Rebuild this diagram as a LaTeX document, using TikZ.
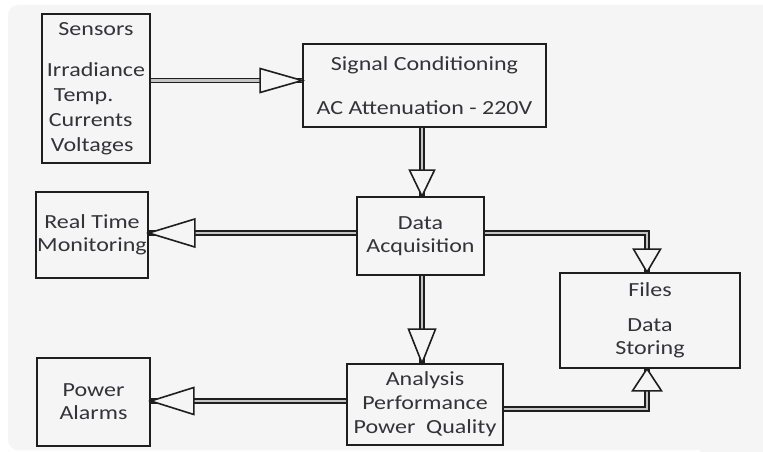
\documentclass[tikz,border=0pt]{standalone}
\usepackage{fontspec}
\setmainfont{Carlito}[FakeStretch=1.2]
\definecolor{bgc}{HTML}{F5F5F5}
\definecolor{txt}{HTML}{333338}
\definecolor{ink}{HTML}{1E1E1E}
\definecolor{gapc}{HTML}{C4C4C4}
\tikzset{
  box/.style={draw=ink, line width=1.7pt, inner sep=0pt, align=center, text=txt,
    font=\fontsize{20pt}{23pt}\selectfont},
  shaft/.style={draw=ink, line width=1.7pt, double=gapc, double distance=2.2pt, line join=miter},
  head/.style={draw=ink, line width=1.6pt, fill=bgc, line join=miter}
}
\begin{document}
\begin{tikzpicture}[x=1pt,y=-1pt]
\useasboundingbox (0,0) rectangle (763,452);
\fill[white] (0,0) rectangle (763,452);
\fill[bgc, rounded corners=10pt] (8,5) rectangle (775,450);
\fill[bgc] (700,300) rectangle (763,452);

% boxes
\node[box, minimum width=108pt, minimum height=149pt, align=left,
  font=\fontsize{20pt}{25pt}\selectfont] (sens) at (96,88.5)
  {\makebox[98pt]{Sensors}\\[16pt]Irradiance\\\hspace*{7pt}Temp.\\\hspace*{2pt}Currents\\\hspace*{4pt}Voltages};
\node[box, minimum width=243pt, minimum height=83pt] (sig) at (424.5,85.5)
  {Signal Conditioning\\[21pt]AC Attenuation - 220V};
\node[box, minimum width=127pt, minimum height=78pt] (daq) at (420.5,236)
  {Data\\Acquisition};
\node[box, minimum width=112pt, minimum height=86pt] (rtm) at (92,235)
  {Real Time\\Monitoring};
\node[box, minimum width=180pt, minimum height=95pt] (files) at (650,320.5)
  {Files\\[12pt]Data\\Storing};
\node[box, minimum width=113pt, minimum height=88pt] (alarm) at (93.5,402)
  {Power\\Alarms};
\node[box, minimum width=156pt, minimum height=81pt,
  font=\fontsize{20pt}{24pt}\selectfont] (ana) at (425,404.5)
  {Analysis\\Performance\\Power~~Quality};

% shafts
\draw[shaft] (sens.east |- 0,80.5) -- (sig.west |- 0,80.5);
\draw[shaft] (sig.south -| 422,0) -- (daq.north -| 422,0);
\draw[shaft] (daq.west |- 0,233) -- (rtm.east |- 0,233);
\draw[shaft] (daq.east |- 0,233) -| (files.north -| 647,0);
\draw[shaft] (daq.south -| 422,0) -- (ana.north -| 422,0);
\draw[shaft] (ana.west |- 0,401) -- (alarm.east |- 0,401);
\draw[shaft] (ana.east |- 0,409) -| (files.south -| 647,0);

% heads
\draw[head] (sig.west |- 0,80.5) -- ++(-42pt,12pt) -- ++(0,-24pt) -- cycle;
\draw[head] (daq.north -| 422,0) -- ++(-12.5pt,26pt) -- ++(25pt,0) -- cycle;
\draw[head] (rtm.east |- 0,233) -- ++(46pt,14pt) -- ++(0,-28pt) -- cycle;
\draw[head] (files.north -| 647,0) -- ++(-13.5pt,23pt) -- ++(27pt,0) -- cycle;
\draw[head] (ana.north -| 422,0) -- ++(-13.5pt,34pt) -- ++(27pt,0) -- cycle;
\draw[head] (alarm.east |- 0,401) -- ++(43pt,13.5pt) -- ++(0,-27pt) -- cycle;
\draw[head] (files.south -| 647,0) -- ++(-14.5pt,-22pt) -- ++(29pt,0) -- cycle;
\end{tikzpicture}
\end{document}
